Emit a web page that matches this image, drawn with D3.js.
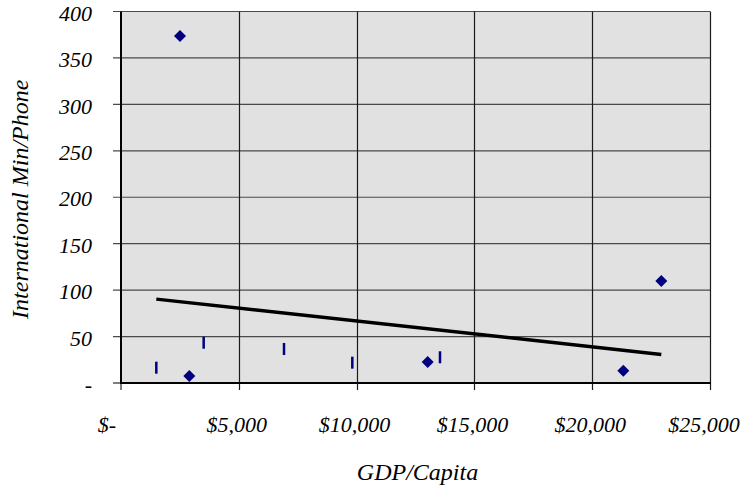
<!DOCTYPE html>
<html>
<head>
<meta charset="utf-8">
<script src="https://cdn.jsdelivr.net/npm/d3@7"></script>
<style>
  html, body { margin: 0; padding: 0; background: #ffffff; }
  svg { display: block; }
  text { font-family: "Liberation Serif", "Times New Roman", serif; font-style: italic; fill: #000; }
</style>
</head>
<body>
<svg id="chart" width="750" height="489"></svg>
<script>
// ---- Data ----
const diamondGDP   = [2504, 2899, 13018, 21320, 22933];
const diamondMin   = [373.6, 7.5, 22.6, 13.2, 109.8];
const dashGDP      = [1499, 3509, 6919, 9818, 13540];
const dashMin      = [16.5, 43.4, 36.6, 21.9, 27.7];
const xTicks       = [0, 5000, 10000, 15000, 20000, 25000];
const yTicks       = [0, 50, 100, 150, 200, 250, 300, 350, 400];
const xTitle       = "GDP/Capita";
const yTitle       = "International Min/Phone";

const svg = d3.select("#chart");
const plot = { left: 121, right: 710, top: 11.5, bottom: 383 };

const x = d3.scaleLinear().domain([0, 25000]).range([plot.left, plot.right]);
const y = d3.scaleLinear().domain([0, 400]).range([plot.bottom, plot.top]);

// plot background
svg.append("rect")
  .attr("x", plot.left).attr("y", plot.top)
  .attr("width", plot.right - plot.left).attr("height", plot.bottom - plot.top)
  .attr("fill", "#e1e1e1");

// gridlines
svg.append("g").selectAll("line")
  .data(yTicks.filter(d => d > 0)).join("line")
  .attr("x1", plot.left - 8).attr("x2", plot.right)
  .attr("y1", d => y(d)).attr("y2", d => y(d))
  .attr("stroke", "#4a4a4a").attr("stroke-width", 1.2);

svg.append("g").selectAll("line")
  .data(xTicks.filter(d => d > 0)).join("line")
  .attr("x1", d => Math.round(x(d)) + 0.5).attr("x2", d => Math.round(x(d)) + 0.5)
  .attr("y1", plot.top).attr("y2", plot.bottom + 7)
  .attr("stroke", "#1a1a1a").attr("stroke-width", 1.2);

// tick marks on left / bottom axes
svg.append("g").selectAll("line")
  .data([0]).join("line")
  .attr("x1", plot.left - 8).attr("x2", plot.left)
  .attr("y1", y(0)).attr("y2", y(0))
  .attr("stroke", "#555").attr("stroke-width", 1.5);
svg.append("g").selectAll("line")
  .data([0]).join("line")
  .attr("x1", x(0)).attr("x2", x(0))
  .attr("y1", plot.bottom).attr("y2", plot.bottom + 7)
  .attr("stroke", "#555").attr("stroke-width", 1.5);

// axis lines
svg.append("line")
  .attr("x1", plot.left).attr("x2", plot.left)
  .attr("y1", plot.top).attr("y2", plot.bottom + 1)
  .attr("stroke", "#000").attr("stroke-width", 2);
svg.append("line")
  .attr("x1", plot.left - 1).attr("x2", plot.right + 1)
  .attr("y1", plot.bottom).attr("y2", plot.bottom)
  .attr("stroke", "#000").attr("stroke-width", 2);

// tick labels
const fmtX = d => d === 0 ? "$-" : "$" + d3.format(",")(d);
const fmtY = d => d === 0 ? "-" : String(d);

svg.append("g").selectAll("text")
  .data(xTicks).join("text")
  .attr("x", d => x(d))
  .attr("dx", d => d === 0 ? -14 : (d === 25000 ? -6 : -2))
  .attr("y", 432)
  .attr("text-anchor", "middle")
  .attr("font-size", 22)
  .text(fmtX);

svg.append("g").selectAll("text")
  .data(yTicks).join("text")
  .attr("x", 92)
  .attr("y", d => y(d) + 1.5)
  .attr("dy", "0.35em")
  .attr("text-anchor", "end")
  .attr("font-size", 22)
  .text(fmtY);

// axis titles
svg.append("text")
  .attr("x", (plot.left + plot.right) / 2 + 2)
  .attr("y", 480)
  .attr("text-anchor", "middle")
  .attr("font-size", 24)
  .text(xTitle);

svg.append("text")
  .attr("transform", `translate(28, ${(plot.top + plot.bottom) / 2 + 2}) rotate(-90)`)
  .attr("text-anchor", "middle")
  .attr("font-size", 24)
  .text(yTitle);

// linear trendline (least squares over all points)
const allX = diamondGDP.concat(dashGDP);
const allY = diamondMin.concat(dashMin);
const mx = d3.mean(allX), my = d3.mean(allY);
const slope = d3.sum(allX, (v, i) => (v - mx) * (allY[i] - my)) / d3.sum(allX, v => (v - mx) * (v - mx));
const icpt = my - slope * mx;
const tx = d3.extent(allX);
svg.append("path")
  .datum(tx)
  .attr("d", d3.line().x(d => x(d)).y(d => y(icpt + slope * d)))
  .attr("stroke", "#000").attr("stroke-width", 3.5).attr("fill", "none");

// dash markers
svg.append("g").selectAll("rect")
  .data(dashGDP.map((v, i) => [v, dashMin[i]])).join("rect")
  .attr("x", d => x(d[0]) - 1.25).attr("y", d => y(d[1]) - 6)
  .attr("width", 2.5).attr("height", 12)
  .attr("fill", "#000080");

// diamond markers
svg.append("g").selectAll("path")
  .data(diamondGDP.map((v, i) => [v, diamondMin[i]])).join("path")
  .attr("d", d3.symbol().type(d3.symbolSquare).size(72))
  .attr("transform", d => `translate(${x(d[0])},${y(d[1])}) rotate(45)`)
  .attr("fill", "#000080");
</script>
</body>
</html>
